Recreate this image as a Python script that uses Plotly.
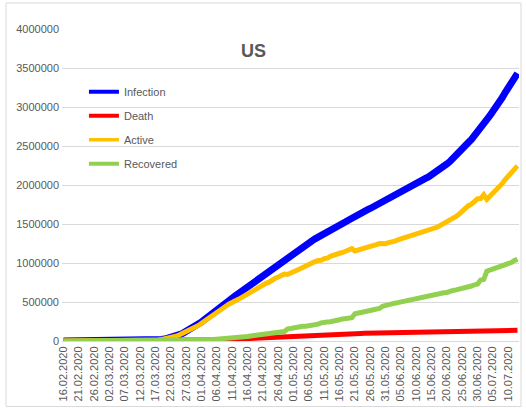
import pandas as pd
import plotly.graph_objects as go

dates = [d.strftime("%d.%m.%Y") for d in pd.date_range("2020-02-16", "2020-07-13", freq="D")]
tick_labels = dates[::5]

infection = [
    15, 15, 15, 15, 15, 15, 15, 51, 51, 57, 58, 60, 68,
    74, 98, 118, 149, 217, 262, 402, 518, 583, 959, 1281, 1663, 2179, 2727, 3499, 4632,
    6421, 7786, 13680, 19101, 25493, 33276, 43847, 53740, 65778, 83836, 101657, 121465,
    140909, 161831, 188172,
    213242, 243622, 275367, 308650, 336802, 366317, 397121, 428654, 462780, 496535,
    526396, 555313, 580619, 607670, 636350, 667592, 699706, 732197, 759086, 784326,
    811865, 840351, 869170, 905358, 938154, 965785, 988197, 1012582, 1039909, 1069424,
    1103461, 1132539, 1158040, 1180375, 1204351, 1229331, 1257023, 1283929, 1309550, 1329260,
    1347881, 1369376, 1390406, 1417774, 1442824, 1467820, 1486757, 1508308, 1528568, 1551853,
    1577147, 1600937, 1622612, 1643499, 1662302, 1680913, 1699176, 1721750, 1746019, 1770165,
    1790191,
    1811370, 1832412, 1851520, 1872660, 1897380, 1920061, 1938823, 1956421, 1973797, 1994283,
    2016027, 2041995, 2066403, 2085769, 2104346, 2127739, 2151916, 2178855, 2210345, 2242123,
    2270303, 2301320, 2337072, 2375086, 2416039, 2461092, 2504655, 2545559, 2585468, 2630143,
    2681211, 2736191, 2793922, 2838678, 2888730, 2937242, 2996333, 3054695, 3117946, 3185737,
    3245925, 3304942, 3364157, 3431574,
]

death = [
    0, 0, 0, 0, 0, 0, 0, 0, 0, 0, 0, 0, 1,
    1, 6, 7, 11, 12, 14, 17, 21, 22, 28, 36, 40, 47, 54, 63, 85,
    108, 118, 200, 244, 307, 427, 552, 706, 942, 1209, 1581, 2026, 2467, 2978, 3873,
    4757, 5926, 7087, 8407, 9619, 10783, 12722, 14695, 16478, 18586,
    20463, 22020, 23529, 25831, 28325, 32916, 36773, 38664, 40661, 42094,
    44444, 46622, 49954, 51949, 53755, 54881, 56259, 58355, 60967, 62996,
    64943, 66369, 67682, 68922, 71064, 73455, 75662, 77180, 78795, 79526,
    80682, 82356, 84119, 85898, 87530, 88754, 89562, 90347, 91921, 93439,
    94702, 95979, 97048, 97720, 98220, 98916, 100442, 101617, 102836, 103781, 104383,
    105147, 106181, 107175, 108211, 109143, 109846, 110220, 110925, 111978, 112954,
    113848, 114625, 115338, 115642, 116029, 116862, 117668, 118440, 119132, 119733,
    120000, 120402, 121236, 122003, 124476, 125055, 125573, 125874, 126235, 126606,
    127313, 128035, 128677, 129012, 129309, 129662, 130825, 131788, 132586, 133519,
    134297, 134810, 135291, 136250,
]

active = [
    12, 12, 12, 12, 12, 12, 12, 46, 46, 51, 52, 53, 60,
    66, 85, 104, 131, 198, 241, 378, 490, 554, 923, 1237, 1611, 2120, 2661, 3424, 4530,
    6296, 7562, 13372, 18710, 25010, 32671, 43117, 52686, 64475, 81946, 99207, 118367,
    135777, 153209, 177275,
    200011, 228695, 258573, 285591, 309735, 335953, 362636, 390400, 420892, 449159,
    474663, 500305, 513608, 534076, 555929, 579973, 604388, 628693, 648088, 669903,
    692217, 716363, 739013, 754330, 784027, 803916, 820514, 838291, 858222, 852481,
    874503, 890788, 910206, 924273, 943496, 965966, 986325, 1007756, 1018221, 1033565,
    1034466, 1056733, 1062857, 1085462, 1104547, 1110690, 1124930, 1134783, 1147255, 1164102,
    1184027, 1154823, 1164325, 1179043, 1184925, 1197095, 1207226, 1220142, 1236737, 1249923,
    1241050,
    1247992, 1262363, 1265087, 1279447, 1296531, 1309366, 1322236, 1326974, 1336964, 1347825,
    1361887, 1379984, 1394459, 1408311, 1411983, 1427374, 1442057, 1461300, 1484498, 1504930,
    1528170, 1540720, 1568288, 1596922, 1628001, 1665228, 1699774, 1734521, 1754030, 1782906,
    1823904, 1826186, 1874841, 1815341, 1852658, 1883432, 1929032, 1969487, 2016249, 2069033,
    2116052, 2163806, 2196927, 2246226,
]

recovered = [
    3, 3, 3, 3, 3, 3, 3, 5, 5, 6, 6, 7, 7,
    7, 7, 7, 7, 7, 7, 7, 7, 7, 8, 8, 12, 12, 12, 12, 17,
    17, 106, 108, 147, 176, 178, 178, 348, 361, 681, 869, 1072, 2665, 5644, 7024,
    8474, 9001, 9707, 14652, 17448, 19581, 21763, 23559, 25410, 28790,
    31270, 32988, 43482, 47763, 52096, 54703, 58545, 64840, 70337, 72329,
    75204, 77366, 80203, 99079, 100372, 106988, 111424, 115936, 120720, 153947,
    164015, 175382, 180152, 187180, 189791, 189910, 195036, 198993, 212534, 216169,
    232733, 230287, 243430, 246414, 250747, 268376, 272265, 283178, 289392, 294312,
    298418, 350135, 361239, 366736, 379157, 384902, 391508, 399991, 406446, 416461, 444758,
    458231, 463868, 479258, 485002, 491706, 500849, 506367, 518522, 524855, 533504,
    540292, 547386, 556606, 561816, 576334, 583503, 592191, 599115, 606715, 617460,
    622133, 640198, 647548, 656161, 663562, 670809, 679308, 685164, 705203, 720631,
    729994, 781970, 790404, 894325, 906763, 924148, 936476, 953420, 969111, 983185,
    995576, 1006326, 1031939, 1049098,
]

series = [
    ("Infection", infection, "#0000FF", 7, 4),
    ("Death", death, "#FF0000", 5, 4),
    ("Active", active, "#FFC000", 5, 3.5),
    ("Recovered", recovered, "#92D050", 5, 4),
]

FONT = "Liberation Sans, Arial, sans-serif"
GREY = "#595959"

fig = go.Figure()
for name, vals, color, w, lw in series:
    fig.add_trace(go.Scatter(
        x=dates, y=vals, name=name, mode="lines",
        line=dict(color=color, width=w),
        showlegend=False, legendgroup=name,
    ))
# legend entries (no drawn data) so the legend swatches can be thinner
for name, vals, color, w, lw in series:
    fig.add_trace(go.Scatter(
        x=[None], y=[None], name=name, mode="lines",
        line=dict(color=color, width=lw),
        showlegend=True, legendgroup=name, hoverinfo="skip",
    ))

fig.update_layout(
    width=526, height=408,
    margin=dict(l=62, r=7, t=29, b=67, autoexpand=False),
    paper_bgcolor="white", plot_bgcolor="white",
    font=dict(family=FONT, size=11, color=GREY),
    showlegend=True,
    legend=dict(
        x=0.048, y=0.845, xanchor="left", yanchor="top",
        bgcolor="rgba(0,0,0,0)", borderwidth=0,
        font=dict(family=FONT, size=11, color=GREY),
        tracegroupgap=5,
    ),
    xaxis=dict(
        type="category", categoryorder="array", categoryarray=dates,
        range=[-0.5, len(dates) - 0.5],
        tickmode="array", tickvals=tick_labels, ticktext=tick_labels,
        tickangle=-90, showgrid=False, automargin=False,
        showline=True, linecolor="#d9d9d9", linewidth=1,
        ticks="", tickfont=dict(family=FONT, size=11, color=GREY),
        fixedrange=True,
    ),
    yaxis=dict(
        range=[0, 4000000], dtick=500000, tickformat="d",
        showgrid=True, gridcolor="#d9d9d9", gridwidth=1, automargin=False,
        zeroline=False, showline=False, ticks="", ticklabelstandoff=2,
        tickfont=dict(family=FONT, size=11, color=GREY),
        fixedrange=True,
    ),
    annotations=[dict(
        text="<b>US</b>", x=0.419, y=0.928, xref="paper", yref="paper",
        showarrow=False, font=dict(family=FONT, size=18, color=GREY),
        xanchor="center", yanchor="middle",
    )],
    shapes=[dict(
        type="rect", xref="paper", yref="paper",
        x0=-0.1225, x1=1.0044, y0=-0.21, y1=1.0833,
        line=dict(color="#d9d9d9", width=1), layer="below",
    )],
)

fig.write_html(
    "out.html",
    config={"displayModeBar": False},
    post_script="document.body.style.margin='0';document.body.style.padding='0';",
)
